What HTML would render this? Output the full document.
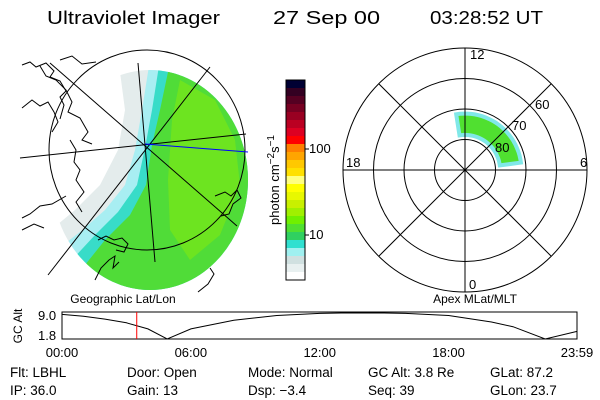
<!DOCTYPE html>
<html><head><meta charset="utf-8"><style>
body{margin:0;background:#fff}
svg{display:block;font-family:"Liberation Sans",sans-serif}
</style></head><body>
<svg id="s" width="600" height="400" viewBox="0 0 600 400">
<rect width="600" height="400" fill="#fff"/>
<g font-size="18" fill="#000">
<text x="47" y="24" textLength="173" lengthAdjust="spacingAndGlyphs">Ultraviolet Imager</text>
<text x="273" y="24" textLength="107" lengthAdjust="spacingAndGlyphs">27 Sep 00</text>
<text x="430" y="24" textLength="113" lengthAdjust="spacingAndGlyphs">03:28:52 UT</text>
</g>
<defs><clipPath id="disk"><ellipse cx="150" cy="180" rx="98" ry="110"/></clipPath></defs>
<g clip-path="url(#disk)">
<polygon points="120,72 125,110 118,150 100,185 75,210 45,235 40,300 260,300 260,60 130,60" fill="#e4ecec"/>
<polygon points="148,72 142,110 135,150 125,185 105,210 80,232 50,255 40,300 260,300 260,60 150,60" fill="#a8eef2"/>
<polygon points="158,72 152,110 145,148 137,185 118,212 95,235 70,262 60,300 260,300 260,60 160,60" fill="#38dcc8"/>
<polygon points="168,72 160,110 152,145 146,185 130,215 105,240 85,265 80,300 260,300 260,60 170,60" fill="#50dc38"/>
<polygon points="180,80 215,100 235,140 240,185 220,235 190,260 170,230 168,180 172,120" fill="#80ea10" opacity="0.6"/>
</g>
<g stroke="#000" fill="none" stroke-width="1">
<ellipse cx="147" cy="150" rx="98" ry="100"/>
<line x1="138" y1="63" x2="155" y2="262"/>
<line x1="20" y1="158" x2="246" y2="134"/>
<line x1="50" y1="63" x2="237" y2="226"/>
<line x1="48" y1="275" x2="210" y2="67"/>
<line x1="145" y1="144" x2="248" y2="152" stroke="#00f"/>
</g>
<g stroke="#000" fill="none">
<path d="M22,65 l8,-3 6,5 10,-4 8,8 -4,6 10,4 6,10 -6,6 4,8 -4,14"/>
<path d="M40,66 l6,10 10,4 10,10 6,12 -4,10 12,6 8,14 -6,8 10,4"/>
<path d="M60,60 l12,-4 10,8 14,-2"/>
<path d="M22,108 l10,-8 8,6 8,-4 6,10 4,10 -6,10"/>
<path d="M70,140 l6,10 -2,12 6,8 -4,10 8,12 -8,10 6,10"/>
<path d="M22,218 l8,-4 10,-8 12,-2 14,-8"/>
<path d="M22,230 l12,-6 10,4"/>
<path d="M98,240 l8,-4 8,4 8,-2 6,6 -4,8 -8,-2"/>
<path d="M95,280 l6,-12 8,-8 6,-4 -2,12 6,-6"/>
<path d="M215,196 l10,-4 6,4 6,-6 4,8 -8,6 -4,10 -8,2"/>
<path d="M198,292 l10,-8 6,-10 -4,-6"/>
</g>
<text x="123" y="303" font-size="12" text-anchor="middle">Geographic Lat/Lon</text>

<g id="cbar"></g>
<text transform="translate(279,180) rotate(-90)" font-size="13" text-anchor="middle">photon cm<tspan dy="-5" font-size="10">−2</tspan><tspan dy="5">s</tspan><tspan dy="-5" font-size="10">−1</tspan></text>

<g>
<path id="aur"/>
<g stroke="#000" fill="none">
<circle cx="465" cy="170" r="30.5"/><circle cx="465" cy="170" r="61"/><circle cx="465" cy="170" r="91.5"/><circle cx="465" cy="170" r="122"/>
<line x1="465" y1="48" x2="465" y2="292"/><line x1="343" y1="170" x2="587" y2="170"/>
<line x1="379" y1="84" x2="551" y2="256"/><line x1="379" y1="256" x2="551" y2="84"/>
</g>
<g font-size="13" fill="#000">
<text x="470" y="59">12</text><text x="469" y="289">0</text>
<text x="346" y="167">18</text><text x="580" y="167">6</text>
<text x="535" y="109">60</text><text x="512" y="130">70</text><text x="495" y="152">80</text>
</g>
</g>
<text x="475" y="303" font-size="12" text-anchor="middle">Apex MLat/MLT</text>

<g>
<rect x="62" y="312" width="515" height="27" fill="none" stroke="#000"/>
<path id="altline" fill="none" stroke="#000"/>
<line id="redline" stroke="#f00"/>
<text transform="translate(22,326) rotate(-90)" font-size="12" text-anchor="middle">GC Alt</text>
<text x="38" y="320" font-size="13">9.0</text><text x="38" y="340" font-size="13">1.8</text>
<g id="xt" font-size="13" text-anchor="middle"></g>
</g>
<g font-size="13.5">
<text x="10" y="377">Flt: LBHL</text><text x="10" y="395">IP: 36.0</text>
<text x="127" y="377">Door: Open</text><text x="127" y="395">Gain: 13</text>
<text x="248" y="377">Mode: Normal</text><text x="248" y="395">Dsp:     −3.4</text>
<text x="368" y="377">GC Alt: 3.8 Re</text><text x="368" y="395">Seq: 39</text>
<text x="490" y="377">GLat:   87.2</text><text x="490" y="395">GLon:   23.7</text>
</g>
</svg>
<script>
const ns="http://www.w3.org/2000/svg";
const cbColors=["#000033","#330022","#550022","#770022","#990022","#bb0022","#dd0022","#ff0000","#ff7f00","#ffa500","#ffc800","#ffe000","#ffff80","#ffff00","#e8f800","#c8f000","#a0f000","#70f000","#50e030","#30d060","#30e0d0","#a0f0f0","#d0e0e0","#e8f0f0","#ffffff"];
const cbTickLabels=["100","10"];
const cbTickValues=[100,10];
const altHours=[0,1,2,3,4,4.9,6,8,10,12,13,15,16,18,20,21,22.5,23.98];
const altValues=[8.6,8.1,7.3,6.3,4.6,1.8,4.6,7.0,8.3,8.9,9.0,9.0,8.9,8.3,6.5,5.2,1.8,3.9];
const tickHours=[0,6,12,18,23.98];
const tickLabels=["00:00","06:00","12:00","18:00","23:59"];
const markerHour=3.48;
const aurMltStart=[12.6], aurMltEnd=[6.5], aurLatLow=[71.5], aurLatHigh=[78.5];

const cb=document.getElementById('cbar');
const cbTop=80,cbH=200,cbX=286,cbW=19;
const bh=cbH/cbColors.length;
cbColors.forEach((c,i)=>{const r=document.createElementNS(ns,'rect');
r.setAttribute('x',cbX);r.setAttribute('y',cbTop+i*bh);r.setAttribute('width',cbW);r.setAttribute('height',bh+0.5);r.setAttribute('fill',c);


cb.appendChild(r);});
const fr=document.createElementNS(ns,'rect');fr.setAttribute('x',cbX);fr.setAttribute('y',cbTop);fr.setAttribute('width',cbW);fr.setAttribute('height',cbH);fr.setAttribute('fill','none');fr.setAttribute('stroke','#000');cb.appendChild(fr);
function cbY(v){return 235-(Math.log10(v)-1)*86;}
cbTickValues.forEach((v,i)=>{const t=document.createElementNS(ns,'text');
t.setAttribute('x',cbX+cbW+4);t.setAttribute('y',cbY(v)+4);t.setAttribute('font-size','13');t.textContent=cbTickLabels[i];


cb.appendChild(t);
const l=document.createElementNS(ns,'line');l.setAttribute('x1',cbX+cbW);l.setAttribute('x2',cbX+cbW+4);l.setAttribute('y1',cbY(v));l.setAttribute('y2',cbY(v));l.setAttribute('stroke','#000');cb.appendChild(l);});

const x0=62,x1=577;
function xs(h){return x0+h/23.98*(x1-x0);}
function ys(a){return 339-(a-1.8)/(9.0-1.8)*26;}
document.getElementById('altline').setAttribute('d',altHours.map((h,i)=>(i?'L':'M')+xs(h).toFixed(1)+','+ys(altValues[i]).toFixed(1)).join(''));
const rl=document.getElementById('redline');
rl.setAttribute('x1',xs(markerHour));rl.setAttribute('x2',xs(markerHour));rl.setAttribute('y1',312);rl.setAttribute('y2',339);
const xt=document.getElementById('xt');
tickHours.forEach((h,i)=>{const t=document.createElementNS(ns,'text');
t.setAttribute('x',xs(h));t.setAttribute('y',357);t.textContent=tickLabels[i];


xt.appendChild(t);});

const cx=465,cy=170;
function P(mlt,lat){const r=(90-lat)*3.05;const a=(mlt-12)/24*2*Math.PI;
return [cx-r*Math.sin(a), cy-r*Math.cos(a)];}
let d='';const n=24;
for(let i=0;i<=n;i++){const m=aurMltStart[0]+(aurMltEnd[0]-aurMltStart[0])*i/n;const p=P(m,aurLatHigh[0]);d+=(i?'L':'M')+p[0].toFixed(1)+','+p[1].toFixed(1);}
for(let i=n;i>=0;i--){const m=aurMltStart[0]+(aurMltEnd[0]-aurMltStart[0])*i/n;const p=P(m,aurLatLow[0]);d+='L'+p[0].toFixed(1)+','+p[1].toFixed(1);}
const aur=document.getElementById('aur');aur.setAttribute('d',d+'Z');aur.setAttribute('fill','#50e030');aur.setAttribute('stroke','#80e8e8');aur.setAttribute('stroke-width','4');
</script>
</body></html>
